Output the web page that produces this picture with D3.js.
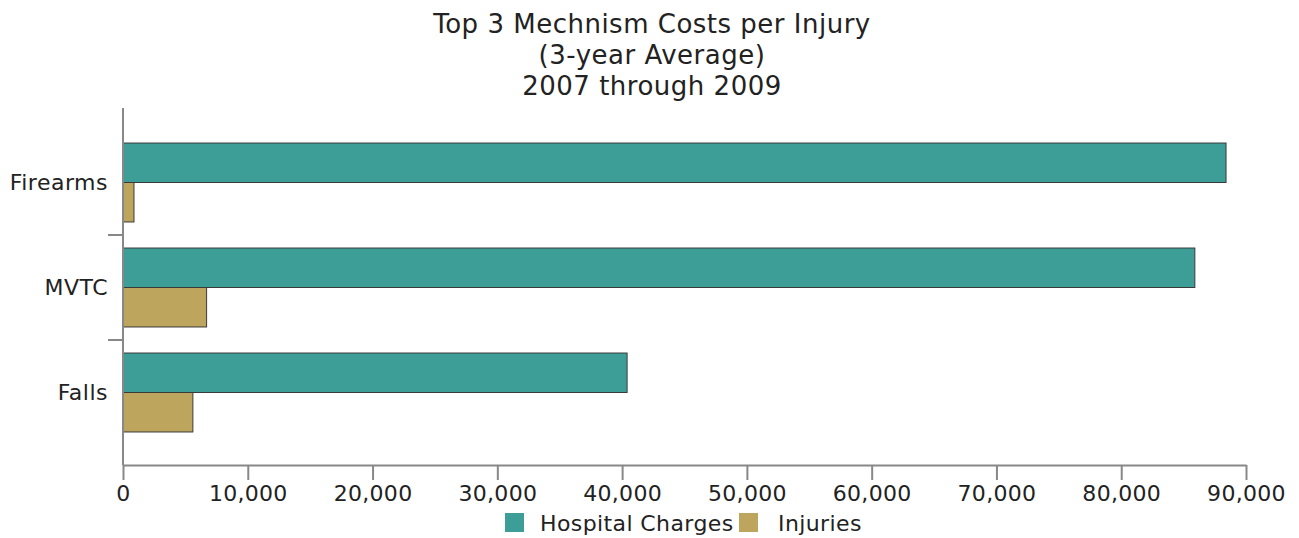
<!DOCTYPE html>
<html>
<head>
<meta charset="utf-8">
<script src="https://cdn.jsdelivr.net/npm/d3@7"></script>
<style>
  body { margin: 0; background: #fff; }
  text { font-family: Verdana, "DejaVu Sans", sans-serif; fill: #222; }
</style>
</head>
<body>
<div id="viz"></div>
<script>
const categories = ['Firearms', 'MVTC', 'Falls'],
    seriesNames = ['Hospital Charges', 'Injuries'],
    hospitalCharges = [88400, 85900, 40400],
    injuries = [880, 6700, 5600],
    xTicks = [0, 10000, 20000, 30000, 40000, 50000, 60000, 70000, 80000, 90000],
    titleLines = ['Top 3 Mechnism Costs per Injury', '(3-year Average)', '2007 through 2009'],
    colors = ['#3c9e96', '#bda55d'];

const width = 1299,
    height = 538,
    margin = {top: 108, right: 53, bottom: 73, left: 123};

const svg = d3.select('#viz').append('svg')
    .attr('width', width)
    .attr('height', height);

// title
svg.append('g').selectAll('text')
    .data(titleLines)
    .enter().append('text')
    .attr('x', 652)
    .attr('y', (d, i) => 33 + i * 31)
    .attr('text-anchor', 'middle')
    .style('font-size', '26px')
    .style('letter-spacing', '0.5px')
    .text(d => d);

const x = d3.scaleLinear()
    .domain([0, 90000])
    .range([margin.left, 1246]);

const y = d3.scaleBand()
    .domain(categories)
    .range([130, 445])
    .paddingInner(0)
    .paddingOuter(0);

const inner = d3.scaleBand()
    .domain(seriesNames)
    .range([0, y.bandwidth()])
    .paddingOuter(0.33)
    .paddingInner(0);

const rows = categories.map((c, i) => ({cat: c, values: [hospitalCharges[i], injuries[i]]}));

// bars
svg.append('g').selectAll('g')
    .data(rows)
    .enter().append('g')
    .attr('transform', d => 'translate(0,' + y(d.cat) + ')')
    .selectAll('rect')
    .data(d => d.values.map((v, j) => ({v: v, s: seriesNames[j], j: j})))
    .enter().append('rect')
    .attr('x', x(0))
    .attr('y', d => inner(d.s))
    .attr('width', d => x(d.v) - x(0))
    .attr('height', inner.bandwidth())
    .attr('fill', d => colors[d.j])
    .attr('stroke', '#3a3a3a')
    .attr('stroke-width', 1);

// x axis
const xAxis = svg.append('g')
    .attr('transform', 'translate(0,465)')
    .call(d3.axisBottom(x).tickValues(xTicks).tickSize(15).tickSizeOuter(0).tickFormat(d3.format(',')));
xAxis.select('.domain').attr('stroke', '#888').attr('stroke-width', 2);
xAxis.selectAll('.tick line').attr('stroke', '#888').attr('stroke-width', 2);
xAxis.selectAll('.tick text')
    .attr('y', 20)
    .style('font-size', '22px')
    .style('letter-spacing', '0.3px')
    .style('fill', '#222');

// y axis line
svg.append('line')
    .attr('x1', x(0)).attr('x2', x(0))
    .attr('y1', margin.top).attr('y2', 465)
    .attr('stroke', '#888').attr('stroke-width', 2);

// y ticks between categories
svg.append('g').selectAll('line')
    .data(categories.slice(1))
    .enter().append('line')
    .attr('x1', x(0) - 15).attr('x2', x(0))
    .attr('y1', d => y(d)).attr('y2', d => y(d))
    .attr('stroke', '#888').attr('stroke-width', 2);

// y labels
svg.append('g').selectAll('text')
    .data(categories)
    .enter().append('text')
    .attr('x', 108)
    .attr('y', d => y(d) + y.bandwidth() / 2)
    .attr('dy', '0.35em')
    .attr('text-anchor', 'end')
    .style('font-size', '22px')
    .style('letter-spacing', '0.5px')
    .text(d => d);

// legend
const legendX = [505, 739];
const legend = svg.append('g').selectAll('g')
    .data(seriesNames)
    .enter().append('g')
    .attr('transform', (d, i) => 'translate(' + legendX[i] + ',513)');
legend.append('rect')
    .attr('width', 19).attr('height', 19)
    .attr('fill', (d, i) => colors[i]);
legend.append('text')
    .attr('x', (d, i) => i === 0 ? 35 : 39)
    .attr('y', 10)
    .attr('dy', '0.35em')
    .style('font-size', '22px')
    .style('letter-spacing', '0.4px')
    .text(d => d);
</script>
</body>
</html>
